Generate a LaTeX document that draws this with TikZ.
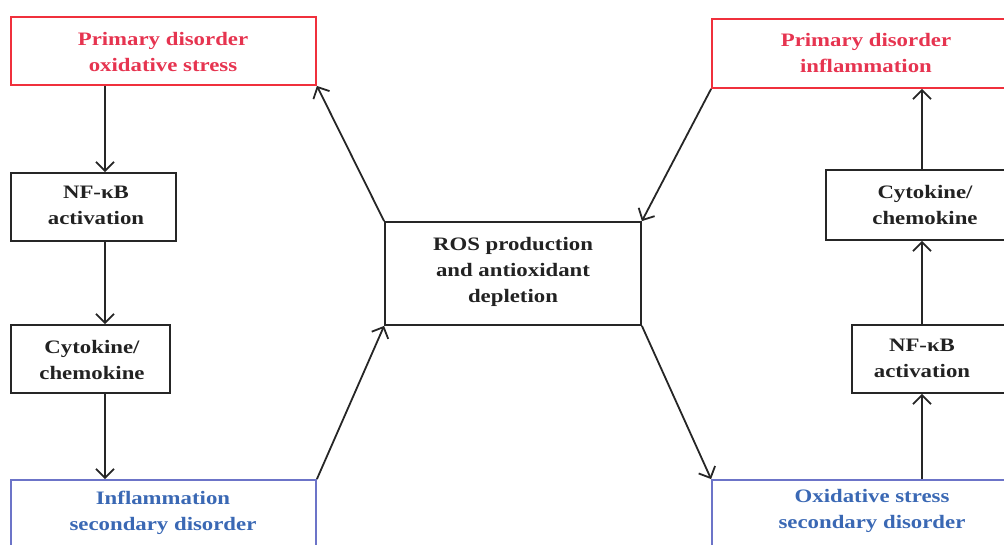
\documentclass[tikz,border=0pt]{standalone}
\usepackage{fontspec}
\setmainfont{Liberation Serif}[FakeStretch=1.2]
\usetikzlibrary{arrows.meta}
\definecolor{redline}{HTML}{F0303C}
\definecolor{redtext}{HTML}{E63450}
\definecolor{blueline}{HTML}{6C74C8}
\definecolor{bluetext}{HTML}{3A68B4}
\definecolor{darktext}{HTML}{222222}
\tikzset{
  box/.style={draw=#1, line width=1.8pt, rectangle, inner sep=0pt},
  lbl/.style={text=#1, font=\fontsize{19}{26}\selectfont\bfseries, align=center, inner sep=0pt},
  arr/.style={line width=1.8pt, draw=black!85, -{Straight Barb[length=9pt,width=18pt,line width=1.8pt]}},
}
\begin{document}
\begin{tikzpicture}[x=1pt,y=-1pt]
\useasboundingbox (0,0) rectangle (1004,545);
\clip (0,0) rectangle (1004,545);
% left column
\node[box=redline, minimum width=305pt, minimum height=68pt] (b1) at (163.5,51) {};
\node[lbl=redtext] (t1) at (163,52) {Primary disorder\\oxidative stress};
\node[box=black!85, minimum width=165pt, minimum height=68pt] (b2) at (93.5,207) {};
\node[lbl=darktext] (t2) at (96,205) {NF-κB\\activation};
\node[box=black!85, minimum width=159pt, minimum height=68pt] (b3) at (90.5,359) {};
\node[lbl=darktext] (t3) at (92,360) {Cytokine/\\chemokine};
\node[box=blueline, minimum width=305pt, minimum height=90pt] (b4) at (163.5,525) {};
\node[lbl=bluetext] (t4) at (163,513) {Inflammation\\secondary disorder};
% centre
\node[box=black!85, minimum width=256pt, minimum height=103pt] (c) at (513,273.5) {};
\node[lbl=darktext] (tc) at (513,272) {ROS production\\and antioxidant\\depletion};
% right column
\node[box=redline, minimum width=310pt, minimum height=69pt] (r1) at (867,53.5) {};
\node[lbl=redtext] (u1) at (866,53) {Primary disorder\\inflammation};
\node[box=black!85, minimum width=200pt, minimum height=70pt] (r2) at (926,205) {};
\node[lbl=darktext] (u2) at (925,205) {Cytokine/\\chemokine};
\node[box=black!85, minimum width=170pt, minimum height=68pt] (r3) at (937,359) {};
\node[lbl=darktext] (u3) at (922,358) {NF-κB\\activation};
\node[box=blueline, minimum width=310pt, minimum height=90pt] (r4) at (867,525) {};
\node[lbl=bluetext] (u4) at (872,511) {Oxidative stress\\secondary disorder};
% left vertical arrows
\draw[arr] (b1.south -| 105,0) -- (b2.north -| 105,0);
\draw[arr] (b2.south -| 105,0) -- (b3.north -| 105,0);
\draw[arr] (b3.south -| 105,0) -- (b4.north -| 105,0);
% right vertical arrows
\draw[arr] (r4.north -| 922,0) -- (r3.south -| 922,0);
\draw[arr] (r3.north -| 922,0) -- (r2.south -| 922,0);
\draw[arr] (r2.north -| 922,0) -- (r1.south -| 922,0);
% diagonals
\draw[arr] (c.north west) -- (b1.south east);
\draw[arr] (b4.north east) -- (c.south west);
\draw[arr] (r1.south west) -- (c.north east);
\draw[arr] (c.south east) -- (r4.north west);
\end{tikzpicture}
\end{document}
